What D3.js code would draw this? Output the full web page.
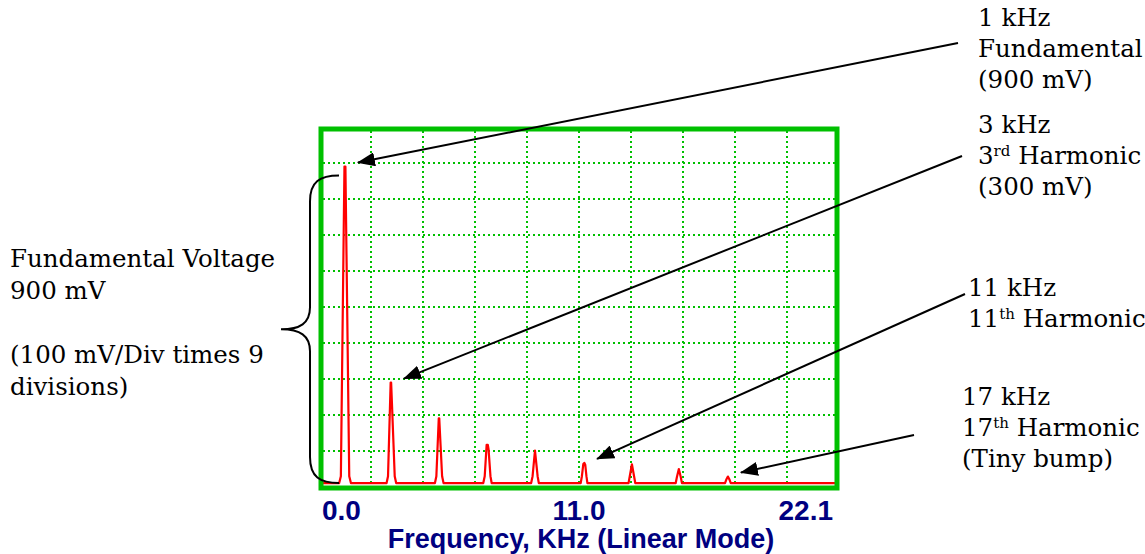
<!DOCTYPE html>
<html>
<head>
<meta charset="utf-8">
<script src="https://cdn.jsdelivr.net/npm/d3@7"></script>
<style>
  html, body { margin: 0; padding: 0; background: #fff; }
  svg { display: block; }
</style>
</head>
<body>
<div id="chart"></div>
<script>
// spectrum trace, [kHz, mV]
const trace = [
  [0.00, 11], [0.76, 11], [0.83, 30], [0.98, 890], [1.02, 890], [1.18, 30], [1.25, 11],
  [2.74, 11], [2.80, 30], [2.91, 290], [2.93, 290], [2.97, 222], [3.08, 30], [3.14, 11],
  [4.76, 11], [4.82, 30], [4.92, 191], [4.94, 191], [5.06, 30], [5.12, 11],
  [6.78, 11], [6.84, 30], [6.92, 117], [6.97, 117], [7.00, 105], [7.08, 30], [7.13, 11],
  [8.78, 11], [8.84, 30], [8.94, 101], [9.05, 30], [9.10, 11],
  [10.85, 11], [10.90, 30], [10.96, 64], [11.00, 67], [11.04, 62], [11.09, 30], [11.13, 11],
  [12.85, 11], [12.90, 30], [12.99, 63], [13.08, 30], [13.13, 11],
  [14.82, 11], [14.87, 28], [14.95, 50], [15.03, 28], [15.08, 11],
  [16.88, 11], [16.93, 20], [17.00, 29], [17.07, 20], [17.12, 11],
  [21.55, 11]
];

const harmonicKhz = [1.00, 2.92, 4.93, 6.95, 8.94, 10.99, 12.99, 14.95, 17.00];
const harmonicMv = [890, 290, 191, 117, 101, 67, 63, 50, 29];
const baselineMv = 11;

const tickLabels = ["0.0", "11.0", "22.1"];
const axisTitle = "Frequency, KHz (Linear Mode)";

// callouts: which harmonic they point at and their text lines
// a line is [main, superscript, rest]
const calloutHarmonic = [0, 1, 5, 8];
const calloutLines = [
  [["1 kHz"], ["Fundamental"], ["(900 mV)"]],
  [["3 kHz"], ["3", "rd", " Harmonic"], ["(300 mV)"]],
  [["11 kHz"], ["11", "th", " Harmonic"]],
  [["17 kHz"], ["17", "th", " Harmonic"], ["(Tiny bump)"]]
];
const leftNote = ["Fundamental Voltage", "900 mV", "", "(100 mV/Div times 9", "divisions)"];

const W = 1145, H = 554;
const green = "#00c000";
const navy = "#000080";
const serif = "'DejaVu Serif', serif";

const svg = d3.select("#chart").append("svg")
    .attr("width", W)
    .attr("height", H);

const box = {left: 319, right: 839, top: 127, bottom: 487};

const x = d3.scaleLinear().domain([0, 21.6]).range([321, 838]);
const y = d3.scaleLinear().domain([0, 1000]).range([box.bottom, box.top]);
const divX = d3.scaleLinear().domain([0, 10]).range([box.left, box.right]);

// dotted grid, 10 x 10 divisions
const grid = svg.append("g")
    .attr("stroke", green)
    .attr("stroke-width", 2)
    .attr("stroke-dasharray", "2 3");

grid.selectAll(".vg")
    .data(d3.range(1, 10))
    .enter().append("line")
    .attr("class", "vg")
    .attr("x1", d => divX(d)).attr("x2", d => divX(d))
    .attr("y1", box.top + 4).attr("y2", box.bottom - 2);

grid.selectAll(".hg")
    .data(d3.range(100, 1000, 100))
    .enter().append("line")
    .attr("class", "hg")
    .attr("y1", d => y(d)).attr("y2", d => y(d))
    .attr("x1", box.left + 4).attr("x2", box.right - 4);

// spectrum
const line = d3.line()
    .x(d => x(d[0]))
    .y(d => y(d[1]));

svg.append("path")
    .datum(trace)
    .attr("fill", "none")
    .attr("stroke", "#ff0000")
    .attr("stroke-width", 2.2)
    .attr("stroke-linejoin", "round")
    .attr("d", line);

// screen frame
svg.append("rect")
    .attr("x", box.left + 2)
    .attr("y", box.top + 2)
    .attr("width", box.right - box.left - 4)
    .attr("height", box.bottom - box.top - 1)
    .attr("fill", "none")
    .attr("stroke", green)
    .attr("stroke-width", 5);

// axis labels
const anchors = ["start", "middle", "end"];
const tickPos = [divX(0) + 3, divX(5), divX(10) - 6];
svg.selectAll(".tick")
    .data(tickLabels)
    .enter().append("text")
    .attr("class", "tick")
    .attr("x", (d, i) => tickPos[i])
    .attr("y", 520)
    .attr("text-anchor", (d, i) => anchors[i])
    .attr("fill", navy)
    .style("font", "bold 28px 'Liberation Sans', Arial, sans-serif")
    .text(d => d);

svg.append("text")
    .attr("x", divX(5) + 2)
    .attr("y", 548)
    .attr("text-anchor", "middle")
    .attr("fill", navy)
    .style("font", "bold 27px 'Liberation Sans', Arial, sans-serif")
    .text(axisTitle);

// arrows
svg.append("defs").append("marker")
    .attr("id", "head")
    .attr("markerUnits", "userSpaceOnUse")
    .attr("viewBox", "0 0 18 14")
    .attr("refX", 17).attr("refY", 7)
    .attr("markerWidth", 18).attr("markerHeight", 14)
    .attr("orient", "auto")
    .append("path")
    .attr("d", "M0,0 L18,7 L0,14 Z")
    .attr("fill", "#000");

const calloutStart = [[958, 43], [962, 156], [965, 294], [914, 435]];
const calloutText = [[978, 26], [978, 133], [968, 296], [962, 405]];

svg.selectAll(".arrow")
    .data(calloutHarmonic)
    .enter().append("line")
    .attr("class", "arrow")
    .attr("x1", (d, i) => calloutStart[i][0])
    .attr("y1", (d, i) => calloutStart[i][1])
    .attr("x2", d => x(harmonicKhz[d]) + 13)
    .attr("y2", d => y(harmonicMv[d]) - 4)
    .attr("stroke", "#000")
    .attr("stroke-width", 2)
    .attr("marker-end", "url(#head)");

calloutLines.forEach((lines, i) => {
  const t = svg.append("text")
      .attr("x", calloutText[i][0])
      .attr("y", calloutText[i][1])
      .style("font", "24.5px " + serif);
  lines.forEach((parts, j) => {
    t.append("tspan")
        .attr("x", calloutText[i][0])
        .attr("y", calloutText[i][1] + j * 31)
        .text(parts[0]);
    if (parts.length > 1) {
      t.append("tspan").attr("dy", -8).style("font-size", "15px").text(parts[1]);
      t.append("tspan").attr("dy", 8).text(parts[2]);
    }
  });
});

// left note and brace
svg.append("text")
    .style("font", "24.5px " + serif)
    .selectAll("tspan")
    .data(leftNote)
    .enter().append("tspan")
    .attr("x", 10)
    .attr("y", (d, i) => 267 + i * 32)
    .text(d => d);

const bTop = y(harmonicMv[0]) + 9, bBot = y(baselineMv);
const bMid = (bTop + bBot) / 2;
const bx = 310, tip = 281, end = 339;
const brace = d3.path();
brace.moveTo(end, bTop);
brace.bezierCurveTo(320, bTop, bx, bTop + 6, bx, bTop + 26);
brace.lineTo(bx, bMid - 22);
brace.bezierCurveTo(bx, bMid - 6, 300, bMid, tip, bMid);
brace.bezierCurveTo(300, bMid, bx, bMid + 6, bx, bMid + 22);
brace.lineTo(bx, bBot - 26);
brace.bezierCurveTo(bx, bBot - 6, 320, bBot, end, bBot);

svg.append("path")
    .attr("d", brace.toString())
    .attr("fill", "none")
    .attr("stroke", "#000")
    .attr("stroke-width", 2);
</script>
</body>
</html>
